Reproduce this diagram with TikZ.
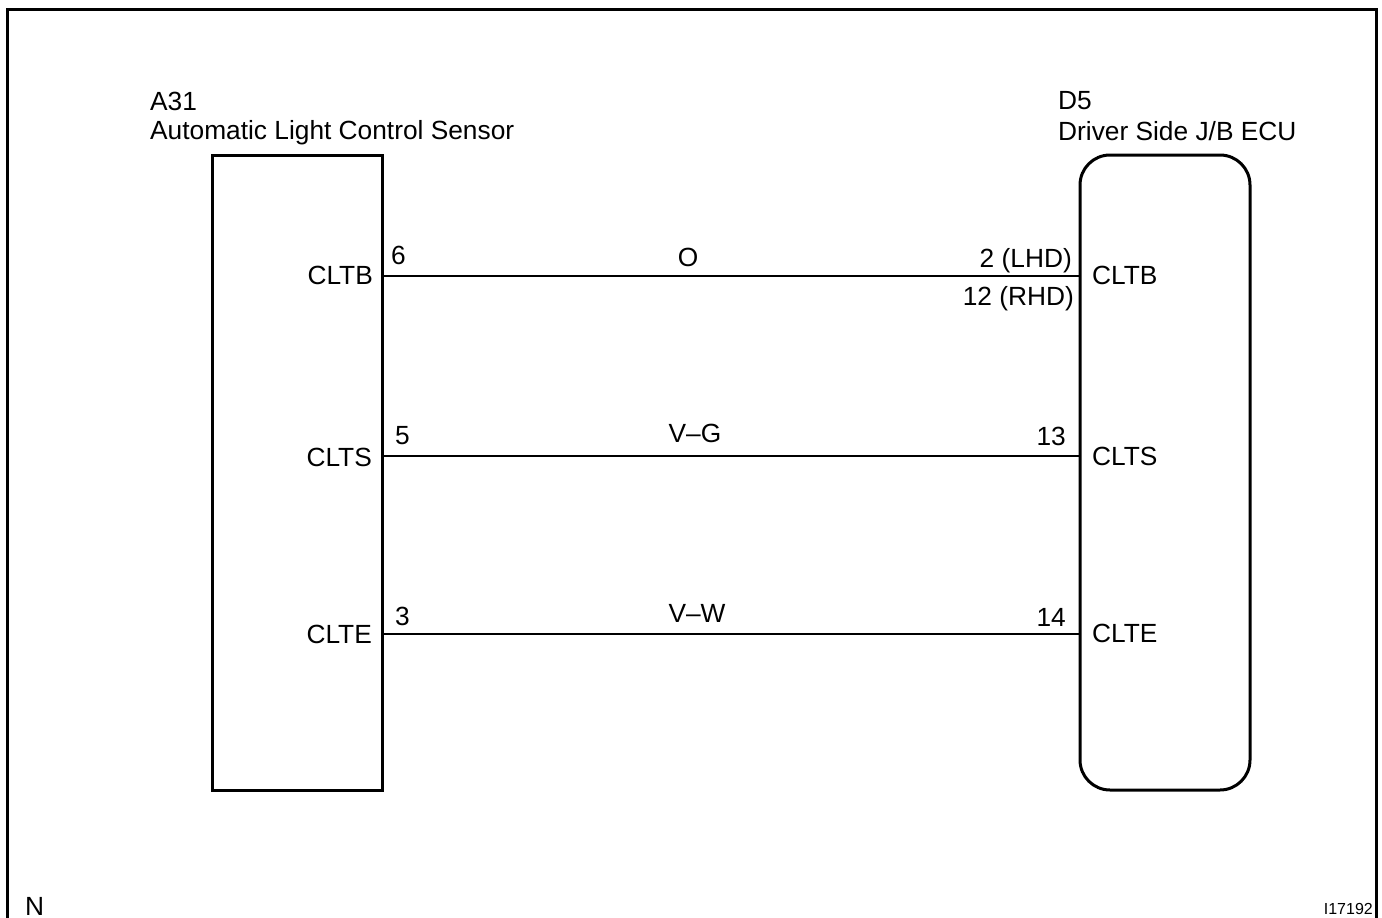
\documentclass[tikz,border=0pt]{standalone}
\usepackage{fontspec}
\setmainfont{Liberation Sans}
\begin{document}
\begin{tikzpicture}[x=1pt,y=-1pt,
  lbl/.style={inner sep=0pt, font=\fontsize{26.3}{30}\selectfont},
  small/.style={inner sep=0pt, font=\fontsize{16}{19}\selectfont},
  wire/.style={line width=2pt},
  unit/.style={draw, line width=3pt, minimum width=170pt, minimum height=635pt, anchor=north west, inner sep=0pt, outer sep=0pt}]
\useasboundingbox (0,0) rectangle (1382,918);
\draw[line width=3pt] (7,920) -- (7,9) -- (1376,9) -- (1376,920);
% boxes
\node[unit] (A) at (212,155) {};
\node[unit, rounded corners=30pt] (B) at (1080,155) {};
% titles
\node[lbl, anchor=base west] (tA1) at (150,110) {A31};
\node[lbl, anchor=base west] (tA2) at (150,139) {Automatic Light Control Sensor};
\node[lbl, anchor=base west] (tB1) at (1058,109) {D5};
\node[lbl, anchor=base west] (tB2) at (1058,140) {Driver Side J/B ECU};
% wire levels
\coordinate (y1) at (0,276);
\coordinate (y2) at (0,456);
\coordinate (y3) at (0,634);
\draw[wire] (A.east |- y1) -- (B.west |- y1);
\draw[wire] (A.east |- y2) -- (B.west |- y2);
\draw[wire] (A.east |- y3) -- (B.west |- y3);
% left pins
\node[lbl, anchor=base east] (lb) at (373,284) {CLTB};
\node[lbl, anchor=base east] (ls) at (372,466) {CLTS};
\node[lbl, anchor=base east] (le) at (372,643) {CLTE};
\node[lbl, anchor=base west] (n6) at (391,264) {6};
\node[lbl, anchor=base west] (n5) at (395,444) {5};
\node[lbl, anchor=base west] (n3) at (395,625) {3};
% wire colours
\node[lbl, anchor=base] (cO) at (688,266) {O};
\node[lbl, anchor=base] (cVG) at (695,442) {V–G};
\node[lbl, anchor=base] (cVW) at (697,622) {V–W};
% right pins
\node[lbl, anchor=base east] (r2) at (1072,267) {2 (LHD)};
\node[lbl, anchor=base east] (r12) at (1074,305) {12 (RHD)};
\node[lbl, anchor=base east] (r13) at (1066,445) {13};
\node[lbl, anchor=base east] (r14) at (1066,626) {14};
\node[lbl, anchor=base west] (rb) at (1092,284) {CLTB};
\node[lbl, anchor=base west] (rs) at (1092,465) {CLTS};
\node[lbl, anchor=base west] (re) at (1092,642) {CLTE};
% corner marks
\node[lbl, anchor=base west] (nN) at (25,915) {N};
\node[small, anchor=base east] (nI) at (1373,914) {I17192};
\end{tikzpicture}
\end{document}
